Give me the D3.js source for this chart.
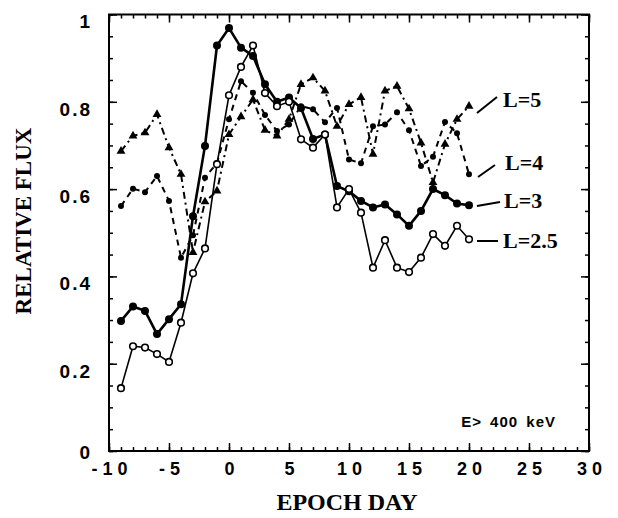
<!DOCTYPE html>
<html><head><meta charset="utf-8">
<script src="https://cdn.jsdelivr.net/npm/d3@7"></script>
<style>body{margin:0;background:#fff}svg{display:block}</style>
</head><body>
<svg id="c" width="618" height="518"></svg>
<script>
const days = d3.range(-9, 21);
const L5 = [0.687,0.722,0.729,0.771,0.695,0.634,0.455,0.571,0.596,0.725,0.766,0.805,0.735,0.722,0.760,0.840,0.855,0.825,0.744,0.794,0.810,0.680,0.825,0.836,0.784,0.706,0.615,0.703,0.760,0.790];
const L4 = [0.561,0.601,0.593,0.630,0.573,0.443,0.494,0.626,0.660,0.760,0.847,0.821,0.770,0.733,0.748,0.790,0.783,0.753,0.786,0.668,0.659,0.744,0.748,0.776,0.735,0.653,0.674,0.754,0.728,0.634];
const L3 = [0.298,0.331,0.321,0.268,0.302,0.336,0.538,0.699,0.929,0.969,0.924,0.905,0.840,0.800,0.810,0.786,0.715,0.725,0.607,0.595,0.573,0.558,0.565,0.542,0.516,0.550,0.600,0.586,0.567,0.563];
const L25 = [0.144,0.240,0.237,0.222,0.204,0.294,0.407,0.464,0.657,0.815,0.880,0.929,0.820,0.790,0.800,0.714,0.695,0.725,0.558,0.600,0.546,0.420,0.483,0.420,0.410,0.443,0.497,0.470,0.516,0.485];
const xTicks = [-10,-5,0,5,10,15,20,25,30];
const yTicks = [0,0.2,0.4,0.6,0.8,1];
const yTickLabels = ["0","0.2","0.4","0.6","0.8","1"];
const seriesLabels = ["L=5","L=4","L=3","L=2.5"];

const svg = d3.select("#c");
const x = d3.scaleLinear([-10,30],[109,589]);
const y = d3.scaleLinear([0,1],[451,14.5]);
const X0=109, X1=589, Y0=451, Y1=14.5;
const tickFont = "'Liberation Sans', Arial, sans-serif";
const serif = "'Liberation Serif', 'Times New Roman', serif";

function styleAxis(g){ g.select(".domain").remove(); g.selectAll("line").attr("stroke","#000").attr("stroke-width",1.5); }
svg.append("g").attr("transform",`translate(0,${Y0})`).call(d3.axisBottom(x).tickValues(d3.range(-10,31)).tickSize(-4).tickFormat("")).call(styleAxis);
svg.append("g").attr("transform",`translate(0,${Y1})`).call(d3.axisTop(x).tickValues(d3.range(-10,31)).tickSize(-4).tickFormat("")).call(styleAxis);
svg.append("g").attr("transform",`translate(0,${Y1})`).call(d3.axisTop(x).tickValues(xTicks).tickSize(-8).tickFormat("")).call(styleAxis);
const bx = svg.append("g").attr("transform",`translate(0,${Y0})`).call(d3.axisBottom(x).tickValues(xTicks).tickSize(-8).tickPadding(11).tickFormat(d=>String(d))).call(styleAxis);
bx.selectAll("text").attr("font-family",tickFont).attr("font-weight","bold").attr("font-size",18).attr("letter-spacing","5px").attr("dx","2.5").attr("fill","#000");

svg.append("g").attr("transform",`translate(${X0},0)`).call(d3.axisLeft(y).tickValues(d3.range(0,1.0001,0.05)).tickSize(-4).tickFormat("")).call(styleAxis);
svg.append("g").attr("transform",`translate(${X1},0)`).call(d3.axisRight(y).tickValues(d3.range(0,1.0001,0.05)).tickSize(-4).tickFormat("")).call(styleAxis);
svg.append("g").attr("transform",`translate(${X1},0)`).call(d3.axisRight(y).tickValues(yTicks).tickSize(-8).tickFormat("")).call(styleAxis);
const ly = svg.append("g").attr("transform",`translate(${X0},0)`).call(d3.axisLeft(y).tickValues(yTicks).tickSize(-8).tickPadding(17).tickFormat((d,i)=>yTickLabels[i])).call(styleAxis);
ly.selectAll("text").attr("font-family",tickFont).attr("font-weight","bold").attr("font-size",19).attr("letter-spacing","2px").attr("dy",d=>d===0?"0.4em":"0.7em").attr("fill","#000");

svg.append("rect").attr("x",X0).attr("y",Y1).attr("width",X1-X0).attr("height",Y0-Y1).attr("fill","none").attr("stroke","#000").attr("stroke-width",2);

const line = d3.line().x((d,i)=>x(days[i])).y(d=>y(d));
const g = svg.append("g");
g.append("path").datum(L5).attr("d",line).attr("fill","none").attr("stroke","#000").attr("stroke-width",2).attr("stroke-dasharray","7,4,2,4");
g.append("path").datum(L4).attr("d",line).attr("fill","none").attr("stroke","#000").attr("stroke-width",2).attr("stroke-dasharray","6,5");
g.append("path").datum(L3).attr("d",line).attr("fill","none").attr("stroke","#000").attr("stroke-width",2.6);
g.append("path").datum(L25).attr("d",line).attr("fill","none").attr("stroke","#000").attr("stroke-width",1.6);

const tri = d3.symbol().type(d3.symbolTriangle).size(34);
g.selectAll(".t5").data(L5).join("path").attr("d",tri).attr("transform",(d,i)=>`translate(${x(days[i])},${y(d)})`).attr("fill","#000");
g.selectAll(".d4").data(L4).join("circle").attr("cx",(d,i)=>x(days[i])).attr("cy",d=>y(d)).attr("r",3).attr("fill","#000");
g.selectAll(".c3").data(L3).join("circle").attr("cx",(d,i)=>x(days[i])).attr("cy",d=>y(d)).attr("r",4).attr("fill","#000");
g.selectAll(".o25").data(L25).join("circle").attr("cx",(d,i)=>x(days[i])).attr("cy",d=>y(d)).attr("r",3.3).attr("fill","#fff").attr("stroke","#000").attr("stroke-width",1.6);

const leaders = [[477,113,497,97],[478,177,495,165],[477,206,500,202],[477,241,498,241]];
const labelPos = [[503,107],[505,170],[504,208],[503,248]];
leaders.forEach((l,i)=>{
  svg.append("line").attr("x1",l[0]).attr("y1",l[1]).attr("x2",l[2]).attr("y2",l[3]).attr("stroke","#000").attr("stroke-width",2);
  svg.append("text").attr("x",labelPos[i][0]).attr("y",labelPos[i][1]).text(seriesLabels[i])
    .attr("font-family",serif).attr("font-weight","bold").attr("font-size",22);
});

svg.append("text").attr("x",556).attr("y",427).attr("text-anchor","end").text("E> 400 keV")
  .attr("font-family",tickFont).attr("font-weight","bold").attr("font-size",15).attr("letter-spacing","1px").attr("word-spacing","3px");

svg.append("text").attr("x",347).attr("y",510).attr("text-anchor","middle").text("EPOCH DAY")
  .attr("font-family",serif).attr("font-weight","bold").attr("font-size",24);
svg.append("text").attr("transform","translate(31,221) rotate(-90)").attr("text-anchor","middle").text("RELATIVE FLUX")
  .attr("font-family",serif).attr("font-weight","bold").attr("font-size",23);
</script>
</body></html>
